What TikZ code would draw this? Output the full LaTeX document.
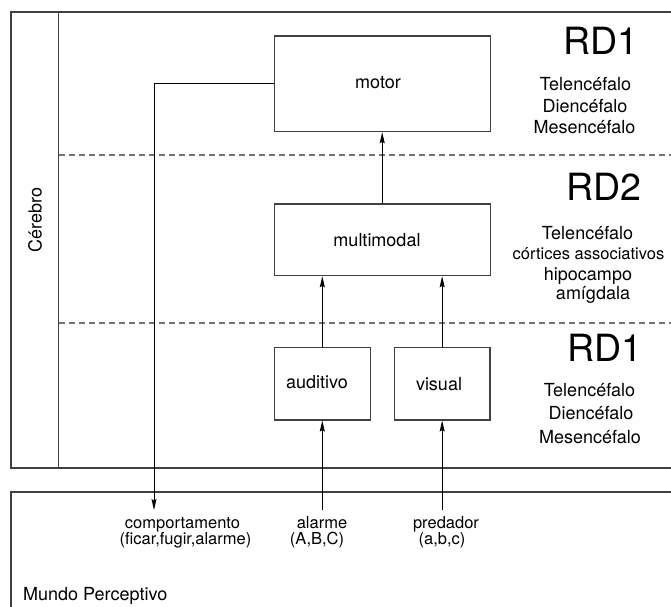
\documentclass[tikz,border=0pt]{standalone}
\usepackage{fontspec}
\setmainfont{TeX Gyre Heros}
\usetikzlibrary{arrows.meta}
\begin{document}
\begin{tikzpicture}[x=1pt,y=-1pt,
  frame/.style={draw=black!75, line width=1.1pt},
  box/.style={draw=black!75, line width=1.1pt, rectangle, inner sep=0pt},
  divider/.style={draw=black!55, line width=1.1pt, dash pattern=on 6pt off 4pt},
  conn/.style={draw=black, line width=0.8pt},
  arr/.style={conn, -{Stealth[length=11pt,width=5pt,inset=1.5pt]}},
  txt/.style={inner sep=0pt, anchor=base, font=\fontsize{18}{21.6}\selectfont},
  small/.style={inner sep=0pt, anchor=base, font=\fontsize{16.5}{19.8}\selectfont},
  big/.style={inner sep=0pt, anchor=base, font=\fontsize{37.5}{45}\selectfont},
]
\useasboundingbox (0,0) rectangle (671,606);
\fill[white] (0,0) rectangle (671,606);
\clip (0,0) rectangle (671,606);

% brain frame, open to the right
\draw[frame] (700,12) -- (11,12) -- (11,468) -- (700,468);
\draw[frame] (58.7,12) -- (58.7,468);
\node[txt, anchor=center, rotate=90] (cerebro) at (35,220) {Cérebro};

% level dividers
\draw[divider] (58.7,155) -- (700,155);
\draw[divider] (58.7,323) -- (700,323);

% perceptive world frame, open to the right and below
\draw[frame] (700,492) -- (11,492) -- (11,640);
\node[txt, anchor=base west] (mundo) at (23,600) {Mundo Perceptivo};

% processing boxes
\node[box, minimum width=215.7pt, minimum height=95.7pt] (motor) at (382.2,83.85) {};
\node[box, minimum width=215.7pt, minimum height=71.7pt] (mm) at (382.2,239.85) {};
\node[box, minimum width=96pt, minimum height=72.3pt] (aud) at (322.3,383.85) {};
\node[box, minimum width=95.7pt, minimum height=72.3pt] (vis) at (442.15,383.85) {};

\node[txt] (motorT) at (378,88) {motor};
\node[txt] (mmT) at (377,246) {multimodal};
\node[txt] (audT) at (317,388) {auditivo};
\node[txt] (visT) at (439,390) {visual};

% level labels
\node[big] (rdA) at (601,54) {RD1};
\node[txt] (rdA1) at (585.5,90) {Telencéfalo};
\node[txt] (rdA2) at (585,112) {Diencéfalo};
\node[txt] (rdA3) at (584.5,133) {Mesencéfalo};

\node[big] (rdB) at (603.5,200) {RD2};
\node[txt] (rdB1) at (587.5,239) {Telencéfalo};
\node[small] (rdB2) at (588.5,259) {córtices associativos};
\node[txt] (rdB3) at (588,280) {hipocampo};
\node[txt] (rdB4) at (593,299) {amígdala};

\node[big] (rdC) at (604.5,361) {RD1};
\node[txt] (rdC1) at (589.5,396) {Telencéfalo};
\node[txt] (rdC2) at (591,419) {Diencéfalo};
\node[txt] (rdC3) at (590,443) {Mesencéfalo};

% world labels
\node[small] (comp1) at (182.5,528) {comportamento};
\node[small] (comp2) at (185.5,544) {(ficar,fugir,alarme)};
\node[small] (alar1) at (322,528) {alarme};
\node[small] (alar2) at (317,544) {(A,B,C)};
\node[small] (pred1) at (446,528) {predador};
\node[small] (pred2) at (442,544) {(a,b,c)};

\coordinate (compIn) at (154,510);
\coordinate (alarOut) at (322.3,510);
\coordinate (predOut) at (442.15,510);

% connectors
\draw[arr] (motor.west) -| (compIn);
\draw[arr] (mm.north) -- (motor.south);
\draw[arr] (aud.north) -- (aud.north |- mm.south);
\draw[arr] (vis.north) -- (vis.north |- mm.south);
\draw[arr] (alarOut) -- (aud.south);
\draw[arr] (predOut) -- (vis.south);
\end{tikzpicture}
\end{document}
